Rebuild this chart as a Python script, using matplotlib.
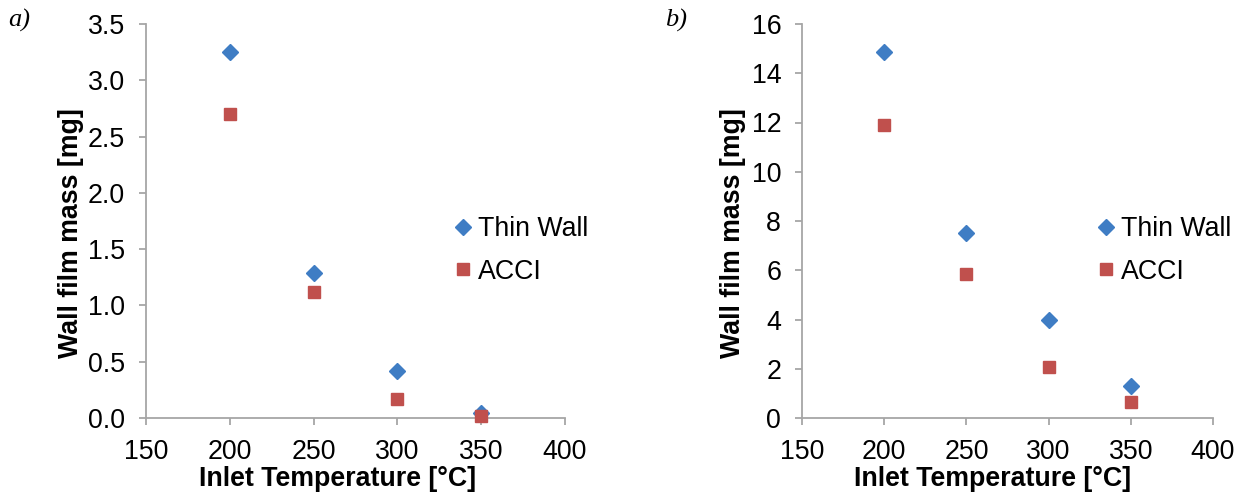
import matplotlib
matplotlib.use("Agg")
import matplotlib.pyplot as plt

temps = [200, 250, 300, 350]
thin_wall_a = [3.25, 1.29, 0.42, 0.04]
acci_a = [2.70, 1.12, 0.17, 0.02]
thin_wall_b = [14.85, 7.50, 3.98, 1.30]
acci_b = [11.88, 5.85, 2.07, 0.65]

x_ticks = [150, 200, 250, 300, 350, 400]
y_ticks_a = [0.0, 0.5, 1.0, 1.5, 2.0, 2.5, 3.0, 3.5]
y_ticks_b = [0, 2, 4, 6, 8, 10, 12, 14, 16]

plt.rcParams['font.family'] = ['Liberation Sans', 'DejaVu Sans']

BLUE = '#3f7dc4'
RED = '#c0504d'
GRAY = '#a6a6a6'
FS = 19.3

fig = plt.figure(figsize=(12.44, 4.97), dpi=100)
ax_a = fig.add_axes([146/1244, 1-418/497, (565-146)/1244, (418-24)/497])
ax_b = fig.add_axes([802/1244, 1-418/497, (1213-802)/1244, (418-24)/497])

def style(ax, thin, acci, yticks, ylim, fmt, leg_x, ylab_x, xlab_x):
    ax.plot(temps, thin, linestyle='none', marker='D', markersize=8,
            color=BLUE, label='Thin Wall')
    ax.plot(temps, acci, linestyle='none', marker='s', markersize=9,
            color=RED, label='ACCI')
    ax.set_xlim(150, 400)
    ax.set_ylim(*ylim)
    ax.set_xticks(x_ticks)
    ax.set_yticks(yticks)
    ax.set_yticklabels([fmt.format(v) for v in yticks])
    for s in ['top', 'right']:
        ax.spines[s].set_visible(False)
    for s in ['left', 'bottom']:
        ax.spines[s].set_color(GRAY)
        ax.spines[s].set_linewidth(1.3)
        ax.spines[s].set_zorder(0)
    ax.tick_params(axis='both', direction='out', length=5, width=1.3,
                   color=GRAY, labelsize=FS, labelcolor='black')
    ax.tick_params(axis='y', pad=10)
    ax.tick_params(axis='x', pad=10)
    for m in ax.lines:
        m.set_clip_on(False)
    ax.set_ylabel('Wall film mass [mg]', fontsize=FS, fontweight='bold')
    ax.yaxis.set_label_coords(ylab_x, 0.47)
    ax.set_xlabel('Inlet Temperature [°C]', fontsize=FS, fontweight='bold')
    ax.xaxis.set_label_coords(xlab_x, -0.122)
    ax.xaxis.label.set_va('top')
    ax.legend(loc='center left', bbox_to_anchor=(leg_x, 0.425),
              frameon=False, fontsize=FS, handlelength=0.6,
              handletextpad=0.25, labelspacing=0.62, borderpad=0,
              borderaxespad=0, markerscale=1.0)

style(ax_a, thin_wall_a, acci_a, y_ticks_a, (0, 3.5), '{:.1f}', 0.738, -0.148, 0.458)
style(ax_b, thin_wall_b, acci_b, y_ticks_b, (0, 16), '{:d}', 0.72, -0.136, 0.464)

fig.text(8/1244, 1-20/497, 'a)', fontsize=19, style='italic',
         family=['Liberation Serif', 'DejaVu Serif'], va='center')
fig.text(665/1244, 1-20/497, 'b)', fontsize=19, style='italic',
         family=['Liberation Serif', 'DejaVu Serif'], va='center')

fig.savefig('out.png', dpi=100)
